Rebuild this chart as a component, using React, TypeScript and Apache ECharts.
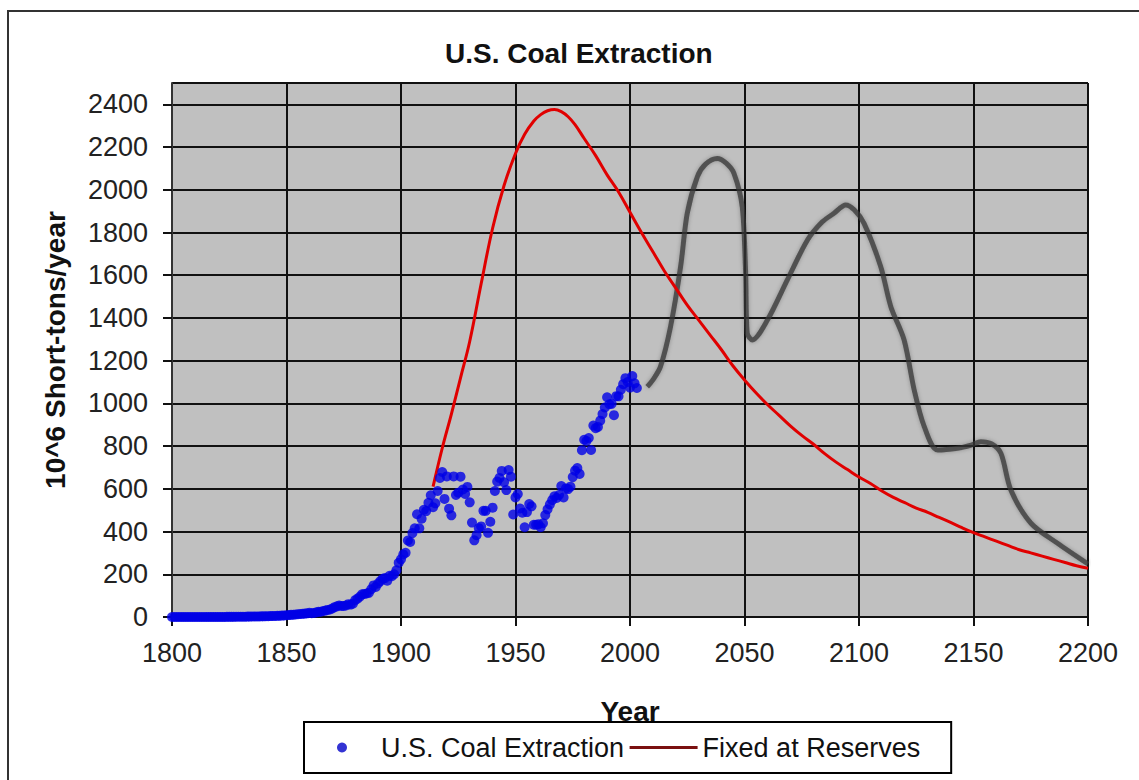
import React, { useEffect, useRef } from "react";
import * as echarts from "echarts";

const FONT = "'Liberation Sans', Arial, sans-serif";

const xTicks = { min: 1800, max: 2200, interval: 50 };
const yTicks = { min: 0, max: 2500, interval: 200 };

const coalStartYear = 1800;
// U.S. Coal Extraction, 10^6 short tons per year, one value per year from 1800
const coalValues = [
  0.1, 0.1, 0.1, 0.1, 0.1, 0.1, 0.1, 0.1, 0.1, 0.1,
  0.2, 0.2, 0.2, 0.2, 0.2, 0.2, 0.3, 0.3, 0.3, 0.3,
  0.4, 0.4, 0.5, 0.5, 0.6, 0.7, 0.8, 0.9, 1.0, 1.1,
  1.2, 1.4, 1.6, 1.8, 2.0, 2.2, 2.4, 2.6, 2.8, 3.0,
  3.2, 3.5, 3.8, 4.1, 4.5, 5.0, 5.5, 6.0, 6.5, 7.2,
  8.4, 9, 10, 11, 12, 13, 14, 15, 16, 17,
  20, 18, 19, 22, 24, 25, 28, 30, 33, 35,
  40, 46, 50, 54, 52, 52, 54, 60, 58, 62,
  79, 86, 95, 106, 108, 110, 113, 130, 148, 141,
  157, 168, 179, 182, 170, 193, 191, 200, 219, 254,
  270, 293, 301, 358, 351, 393, 415, 481, 415, 460,
  502, 496, 535, 570, 514, 532, 590, 651, 679, 553,
  658, 507, 476, 658, 571, 582, 657, 597, 576, 609,
  537, 442, 359, 383, 416, 424, 497, 497, 394, 446,
  512, 590, 634, 651, 684, 631, 594, 688, 657, 480,
  560, 576, 508, 488, 420, 491, 529, 518, 432, 432,
  434, 420, 439, 477, 504, 527, 547, 565, 557, 571,
  613, 560, 602, 599, 610, 655, 685, 697, 670, 781,
  830, 824, 838, 782, 896, 884, 890, 919, 950, 981,
  1029, 996, 998, 945, 1034, 1033, 1064, 1090, 1118, 1100,
  1074, 1128, 1094, 1072,
];

// Fixed at Reserves curve
const reserveYears = [
  1914, 1918, 1922, 1926, 1930, 1935, 1940, 1945, 1950, 1954, 1958, 1961, 1964,
  1967, 1970, 1973, 1976, 1980, 1985, 1990, 1995, 2000, 2005, 2010, 2015, 2020,
  2025, 2030, 2035, 2040, 2045, 2050, 2055, 2060, 2065, 2070, 2075, 2080, 2085,
  2090, 2095, 2100, 2105, 2110, 2115, 2120, 2125, 2130, 2135, 2140, 2145, 2150,
  2155, 2160, 2165, 2170, 2175, 2180, 2185, 2190, 2195, 2200,
];
const reserveValues = [
  610, 790, 950, 1120, 1290, 1560, 1820, 2020, 2170, 2260, 2322, 2352, 2370,
  2376, 2366, 2342, 2305, 2240, 2160, 2070, 1990, 1895, 1800, 1710, 1620, 1540,
  1460, 1390, 1320, 1250, 1175, 1110, 1050, 995, 945, 895, 850, 810, 765,
  725, 690, 655, 625, 590, 560, 535, 510, 490, 466, 443, 418, 395,
  375, 355, 335, 315, 300, 285, 270, 255, 240, 228,
];

// Hand-drawn grey sketch (not in legend)
const sketchYears = [
  2007.5, 2010, 2013.3, 2017.7, 2022.1, 2025, 2029.4, 2033, 2038.1, 2042, 2045.4,
  2049, 2050.5, 2051.2, 2053.4, 2060, 2068.7, 2077.5, 2084, 2089.1, 2094.2, 2098,
  2102.2, 2109.5, 2113.9, 2119.7, 2124.1, 2128.5, 2134.3, 2143, 2149, 2153.2,
  2158, 2162, 2166.3, 2175.1, 2186.7, 2200,
];
const sketchValues = [
  1078, 1110, 1172, 1359, 1640, 1890, 2061, 2120, 2147, 2125, 2077,
  1921, 1609, 1328, 1297, 1390, 1578, 1765, 1850, 1890, 1929, 1905,
  1843, 1640, 1453, 1297, 1063, 891, 782, 790, 805, 821,
  810, 766, 595, 439, 345, 248,
];

export default function App() {
  const ref = useRef<HTMLDivElement>(null);

  useEffect(() => {
    document.body.style.margin = "0";
    const chart = echarts.init(ref.current!, null, { renderer: "svg" });

    const coalData = coalValues.map((v, i) => [coalStartYear + i, v]);
    const reserveData = reserveYears.map((y, i) => [y, reserveValues[i]]);
    const sketchData = sketchYears.map((y, i) => [y, sketchValues[i]]);

    chart.setOption({
      animation: false,
      backgroundColor: "#ffffff",
      title: {
        text: "U.S. Coal Extraction",
        left: 440,
        top: 34,
        textStyle: { fontFamily: FONT, fontSize: 28, fontWeight: "bold", color: "#111" },
      },
      graphic: [
        {
          type: "rect",
          z: -10,
          shape: { x: 8, y: 11, width: 1150, height: 820 },
          style: { fill: "none", stroke: "#333", lineWidth: 2 },
          silent: true,
        },
      ],
      legend: {
        left: 304,
        top: 722,
        orient: "horizontal",
        itemWidth: 68,
        itemHeight: 10,
        itemGap: 4,
        padding: [12, 31, 12, 33],
        borderColor: "#000",
        borderWidth: 2,
        backgroundColor: "#fff",
        textStyle: { fontFamily: FONT, fontSize: 27, color: "#111" },
        data: [
          { name: "U.S. Coal Extraction", icon: "circle", itemStyle: { color: "#0000c8" } },
          {
            name: "Fixed at Reserves",
            itemStyle: { opacity: 0 },
            lineStyle: { color: "#7a1010", width: 3 },
          },
        ],
      },
      grid: {
        left: 172,
        top: 83,
        right: 51,
        bottom: 163,
        show: true,
        backgroundColor: "#c0c0c0",
        borderColor: "#777",
        borderWidth: 1,
      },
      xAxis: {
        type: "value",
        min: xTicks.min,
        max: xTicks.max,
        interval: xTicks.interval,
        name: "Year",
        nameLocation: "middle",
        nameGap: 80,
        nameTextStyle: { fontFamily: FONT, fontSize: 28, fontWeight: "bold", color: "#111" },
        axisLine: { show: true, lineStyle: { color: "#111", width: 2 } },
        axisTick: { show: true, length: 9, lineStyle: { color: "#111", width: 2 } },
        axisLabel: {
          fontFamily: FONT,
          fontSize: 27,
          color: "#222",
          margin: 22,
          formatter: (v: number) => String(v),
        },
        splitLine: { show: true, lineStyle: { color: "#111", width: 2 } },
      },
      yAxis: {
        type: "value",
        min: yTicks.min,
        max: yTicks.max,
        interval: yTicks.interval,
        name: "10^6 Short-tons/year",
        nameLocation: "middle",
        nameGap: 103,
        nameTextStyle: { fontFamily: FONT, fontSize: 28, fontWeight: "bold", color: "#111" },
        axisLine: { show: true, lineStyle: { color: "#333", width: 2 } },
        axisTick: { show: true, length: 9, lineStyle: { color: "#111", width: 2 } },
        axisLabel: {
          fontFamily: FONT,
          fontSize: 27,
          color: "#222",
          margin: 24,
          showMaxLabel: false,
          formatter: (v: number) => String(v),
        },
        splitLine: { show: true, lineStyle: { color: "#111", width: 2 } },
      },
      series: [
        {
          name: "sketch",
          type: "line",
          data: sketchData,
          smooth: 0.3,
          symbol: "none",
          silent: true,
          z: 2,
          lineStyle: {
            color: "rgba(55,55,55,0.75)",
            width: 5,
            shadowBlur: 4,
            shadowColor: "rgba(0,0,0,0.35)",
          },
        },
        {
          name: "Fixed at Reserves",
          type: "line",
          data: reserveData,
          smooth: 0.4,
          symbol: "none",
          z: 3,
          lineStyle: { color: "#e00000", width: 3 },
          itemStyle: { color: "#e00000" },
        },
        {
          name: "U.S. Coal Extraction",
          type: "scatter",
          data: coalData,
          symbol: "circle",
          symbolSize: 10,
          z: 4,
          itemStyle: { color: "#0000e6" },
        },
      ],
    });

    return () => chart.dispose();
  }, []);

  return <div ref={ref} style={{ width: 1139, height: 780 }} />;
}
